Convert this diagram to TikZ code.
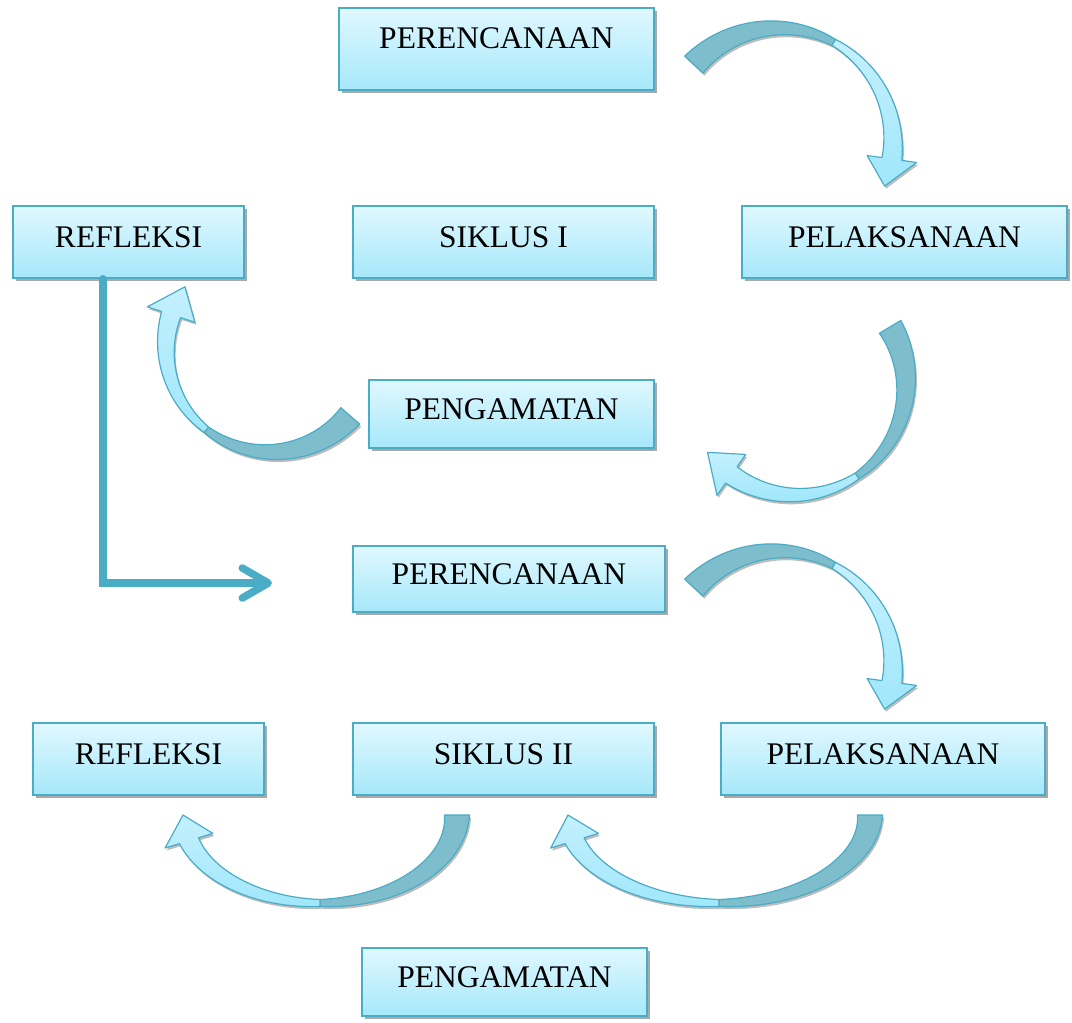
\documentclass[tikz,border=0pt]{standalone}
\usepackage{fontspec}
\setmainfont{Liberation Serif}
\usetikzlibrary{shadows,arrows.meta}
\definecolor{bord}{HTML}{4BACC6}
\definecolor{boxtop}{HTML}{E0F8FF}
\definecolor{boxbot}{HTML}{A6E8FA}
\definecolor{darkarr}{HTML}{7DBDCC}
\definecolor{lighttop}{HTML}{C4F0FD}
\definecolor{lightbot}{HTML}{A0E7FB}
\definecolor{shad}{HTML}{A0A0A0}
\def\Wt{25}\def\Wm{7}\def\Wl{20}\def\Hw{25}
\newcommand\Cset[4]{\def\Cx{#1}\def\Cy{#2}\def\Crx{#3}\def\Cry{#4}}
\newcommand\Cang[4]{\def\Ca{#1}\def\Cm{#2}\def\Cb{#3}\def\Ct{#4}}
\newcommand\Cpaths[2]{%
 \path[#1] plot[domain=\Ca:\Cm,samples=40,variable=\t]
   ({\Cx+(\Crx+(\Wt+(\Wm-\Wt)*(\t-(\Ca))/((\Cm)-(\Ca)))/2)*cos(\t)},{\Cy+(\Cry+(\Wt+(\Wm-\Wt)*(\t-(\Ca))/((\Cm)-(\Ca)))/2)*sin(\t)})
   -- plot[domain=\Cm:\Ca,samples=40,variable=\t]
   ({\Cx+(\Crx-(\Wt+(\Wm-\Wt)*(\t-(\Ca))/((\Cm)-(\Ca)))/2)*cos(\t)},{\Cy+(\Cry-(\Wt+(\Wm-\Wt)*(\t-(\Ca))/((\Cm)-(\Ca)))/2)*sin(\t)})
   -- cycle;
 \path[#2] plot[domain=\Cm:\Cb,samples=40,variable=\t]
   ({\Cx+(\Crx+(\Wm+(\Wl-\Wm)*(\t-(\Cm))/((\Cb)-(\Cm)))/2)*cos(\t)},{\Cy+(\Cry+(\Wm+(\Wl-\Wm)*(\t-(\Cm))/((\Cb)-(\Cm)))/2)*sin(\t)})
   -- ({\Cx+(\Crx+\Hw)*cos(\Cb)},{\Cy+(\Cry+\Hw)*sin(\Cb)})
   -- ({\Cx+\Crx*cos(\Ct)},{\Cy+\Cry*sin(\Ct)})
   -- ({\Cx+(\Crx-\Hw)*cos(\Cb)},{\Cy+(\Cry-\Hw)*sin(\Cb)})
   -- plot[domain=\Cb:\Cm,samples=40,variable=\t]
   ({\Cx+(\Crx-(\Wm+(\Wl-\Wm)*(\t-(\Cm))/((\Cb)-(\Cm)))/2)*cos(\t)},{\Cy+(\Cry-(\Wm+(\Wl-\Wm)*(\t-(\Cm))/((\Cb)-(\Cm)))/2)*sin(\t)})
   -- cycle;
}
\newcommand\Carrow{%
 \begin{scope}[shift={(1.5,-2.5)}]\Cpaths{fill=shad!70}{fill=shad!70}\end{scope}
 \Cpaths{darkband}{lightband}%
}
\begin{document}
\begin{tikzpicture}[x=1pt,y=1pt,
  box/.style={draw=bord, line width=1.5pt, top color=boxtop, bottom color=boxbot,
    inner sep=0pt, font=\fontsize{31.5}{36}\selectfont, text depth=10pt,
    drop shadow={shadow xshift=2.5pt, shadow yshift=-3pt, fill=shad, opacity=0.9}},
  darkband/.style={fill=darkarr, draw=bord, line width=1.2pt, line join=round},
  lightband/.style={top color=lighttop, bottom color=lightbot, draw=bord, line width=1.2pt, line join=round},
  conn/.style={draw=bord, line width=7.5pt, line cap=round, line join=miter,
    -{Straight Barb[length=26pt,width=30pt,round]},
    preaction={draw=shad!80, transform canvas={shift={(2pt,-3pt)}}}}
]
\useasboundingbox (0,0) rectangle (1072,-1023);

\node[box, minimum width=315pt, minimum height=82pt, text depth=22pt] (pr1) at (496.5,-49) {PERENCANAAN};
\node[box, minimum width=231pt, minimum height=72pt] (rf1) at (128.5,-242) {REFLEKSI};
\node[box, minimum width=301pt, minimum height=72pt] (sk1) at (503.5,-242) {SIKLUS I};
\node[box, minimum width=325pt, minimum height=72pt] (pl1) at (904.5,-242) {PELAKSANAAN};
\node[box, minimum width=285pt, minimum height=68pt] (pg1) at (511.5,-414) {PENGAMATAN};
\node[box, minimum width=312pt, minimum height=66pt] (pr2) at (509,-579) {PERENCANAAN};
\node[box, minimum width=231pt, minimum height=72pt] (rf2) at (148.5,-759) {REFLEKSI};
\node[box, minimum width=301pt, minimum height=72pt] (sk2) at (503.5,-759) {SIKLUS II};
\node[box, minimum width=324pt, minimum height=72pt] (pl2) at (883,-759) {PELAKSANAAN};
\node[box, minimum width=285pt, minimum height=68pt] (pg2) at (504.5,-982) {PENGAMATAN};

% curved arrows
\Cset{778}{-143}{115}{115}\Cang{137}{61}{-8}{-22}\Carrow
\Cset{795}{-384}{111}{111}\Cang{31}{-56}{-125}{-142}\Carrow
\Cset{271}{-347}{105}{105}\Cang{-41}{-128}{-198}{-215}\Carrow
\Cset{778}{-666}{115}{115}\Cang{137}{61}{-8}{-22}\Carrow
\Cset{320}{-815}{137}{88}\Cang{0}{-90}{-163}{-180}\Carrow
\Cset{719}{-815}{151}{88}\Cang{0}{-90}{-163}{-180}\Carrow

% L connector
\coordinate (lend) at (272,-583);
\draw[conn] ([xshift=-25.5pt]rf1.south) |- (lend);
\end{tikzpicture}
\end{document}
